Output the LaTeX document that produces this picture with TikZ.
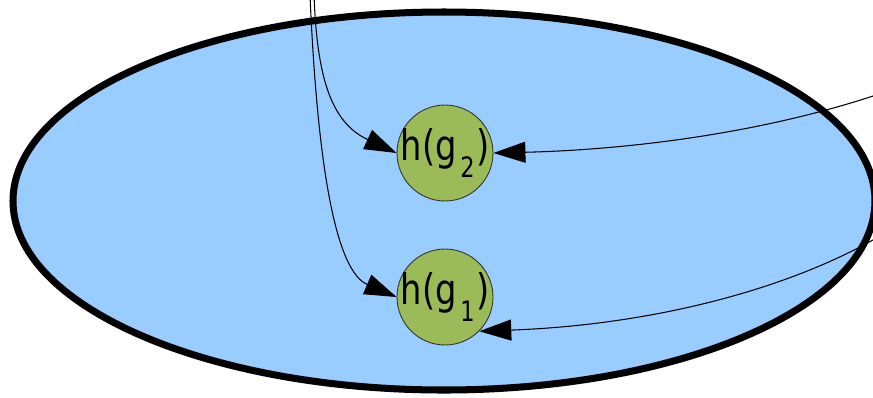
\documentclass[tikz,border=0pt]{standalone}
\usepackage{fontspec}
\setmainfont{DejaVu Sans}
\usetikzlibrary{arrows.meta}
\definecolor{cellblue}{HTML}{99CCFF}
\definecolor{hgreen}{HTML}{9BBB59}
\newcommand{\hlabel}[1]{\scalebox{0.8}[1]{h(g\kern2.5pt\raisebox{-10pt}{\fontsize{16}{16}\selectfont #1}\kern1pt)}}

\begin{document}
\begin{tikzpicture}[
        x=0.02cm, y=-0.02cm,
        cell/.style={
            draw,
            line width=4pt,
            fill=cellblue
        },
        hnode/.style={
            circle,
            draw=black!80,
            line width=0.5pt,
            fill=hgreen,
            minimum size=1.92cm,
            inner sep=-4pt,
            font=\fontsize{24}{26}\selectfont
        },
        arrow/.style={-{Triangle[length=0.64cm,width=0.42cm]}, line width=0.6pt}
    ]

        \useasboundingbox (0,0) rectangle (873,397);

        \draw[cell] (444,201) ellipse [x radius=431, y radius=189];

        \node[hnode] (g2) at (445,153) {\hlabel{2}};
        \node[hnode] (g1) at (445,297) {\hlabel{1}};

        \coordinate (topA) at (314,-5);
        \coordinate (topB) at (310,-5);
        \coordinate (rightA) at (885,92);
        \coordinate (rightB) at (885,233);

        \draw[arrow] (topA) .. controls (317,75) and (330,122) .. (g2.west);
        \draw[arrow] (topB) .. controls (318,180) and (338,272) .. (g1.west);
        \draw[arrow] (rightA) .. controls (760,135) and (620,150) .. (g2.east);
        \draw[arrow] (rightB) .. controls (790,290) and (650,325) .. (g1.south east);

    \end{tikzpicture}
\end{document}
